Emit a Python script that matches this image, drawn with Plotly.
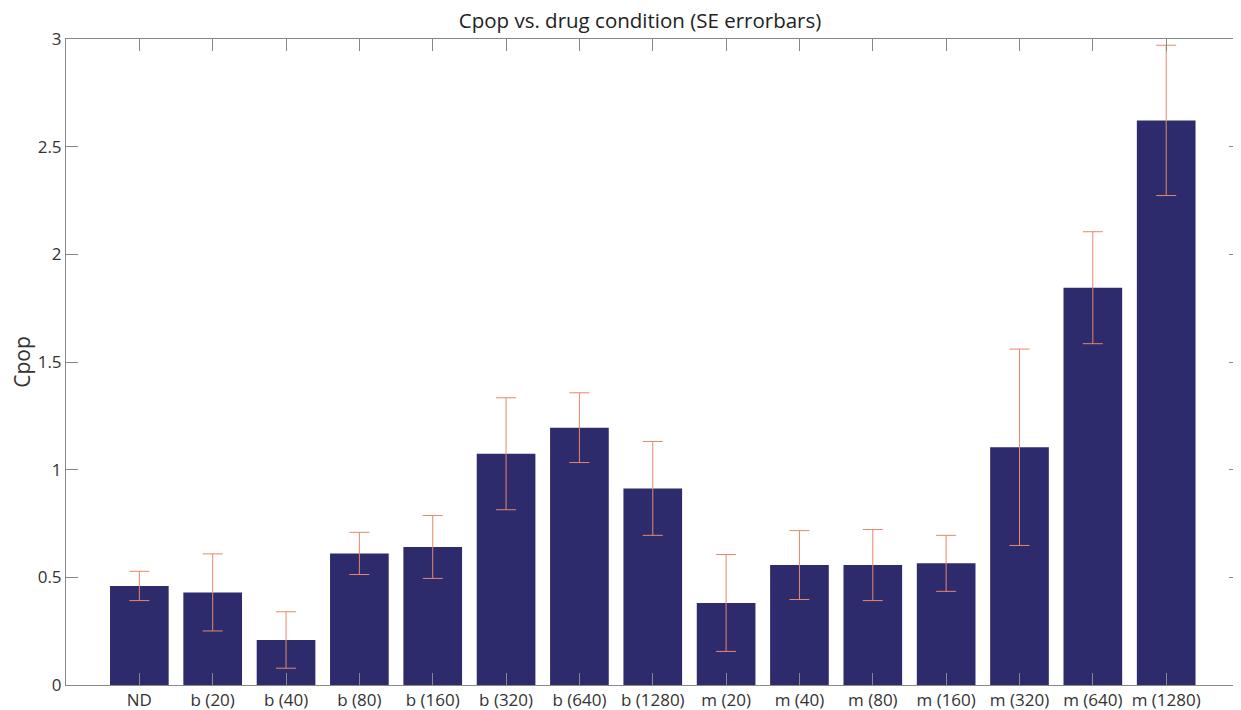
import plotly.graph_objects as go

categories = ["ND", "b (20)", "b (40)", "b (80)", "b (160)", "b (320)", "b (640)", "b (1280)",
              "m (20)", "m (40)", "m (80)", "m (160)", "m (320)", "m (640)", "m (1280)"]
cpop = [0.46, 0.43, 0.209, 0.611, 0.641, 1.074, 1.195, 0.913,
        0.381, 0.557, 0.557, 0.565, 1.104, 1.845, 2.622]
se = [0.068, 0.179, 0.131, 0.098, 0.146, 0.26, 0.162, 0.218,
      0.225, 0.16, 0.165, 0.13, 0.456, 0.26, 0.349]

positions = list(range(1, len(categories) + 1))

fig = go.Figure()
fig.add_trace(go.Bar(
    x=positions, y=cpop, width=0.8,
    marker=dict(color="#2e2b6c", line=dict(width=0)),
    error_y=dict(type="data", array=se, visible=True, color="#e8876a", thickness=1, width=10),
    showlegend=False,
))

axis_font = dict(family="Open Sans, Lato, sans-serif", size=17, color="#333333")
fig.update_layout(
    width=1233, height=702,
    margin=dict(l=58, r=0, t=31, b=25),
    paper_bgcolor="white", plot_bgcolor="white",
    title=dict(text="Cpop vs. drug condition (SE errorbars)", x=0.5126, xanchor="center",
               y=0.9815, yanchor="middle",
               font=dict(family="Open Sans, Lato, sans-serif", size=20.5, color="#222222")),
    bargap=0.2,
)
fig.update_xaxes(
    range=[0, 16.02], tickmode="array", tickvals=positions, ticktext=categories,
    ticks="inside", ticklen=12, tickcolor="#888888", tickwidth=1,
    showline=True, linecolor="#888888", linewidth=1, mirror="ticks",
    showgrid=False, zeroline=False, tickfont=axis_font, automargin=False,
)
fig.update_yaxes(
    range=[0, 3], tickmode="array", tickvals=[0, 0.5, 1, 1.5, 2, 2.5, 3],
    ticktext=["0", "0.5", "1", "1.5", "2", "2.5", "3"],
    ticks="inside", ticklen=12, tickcolor="#888888", tickwidth=1,
    showline=True, linecolor="#888888", linewidth=1, mirror="ticks",
    showgrid=False, zeroline=False, tickfont=axis_font, automargin=False,
    title=dict(text="Cpop", font=dict(family="Open Sans, Lato, sans-serif", size=21, color="#333333"),
               standoff=6),
)

fig.write_html("out.html")
